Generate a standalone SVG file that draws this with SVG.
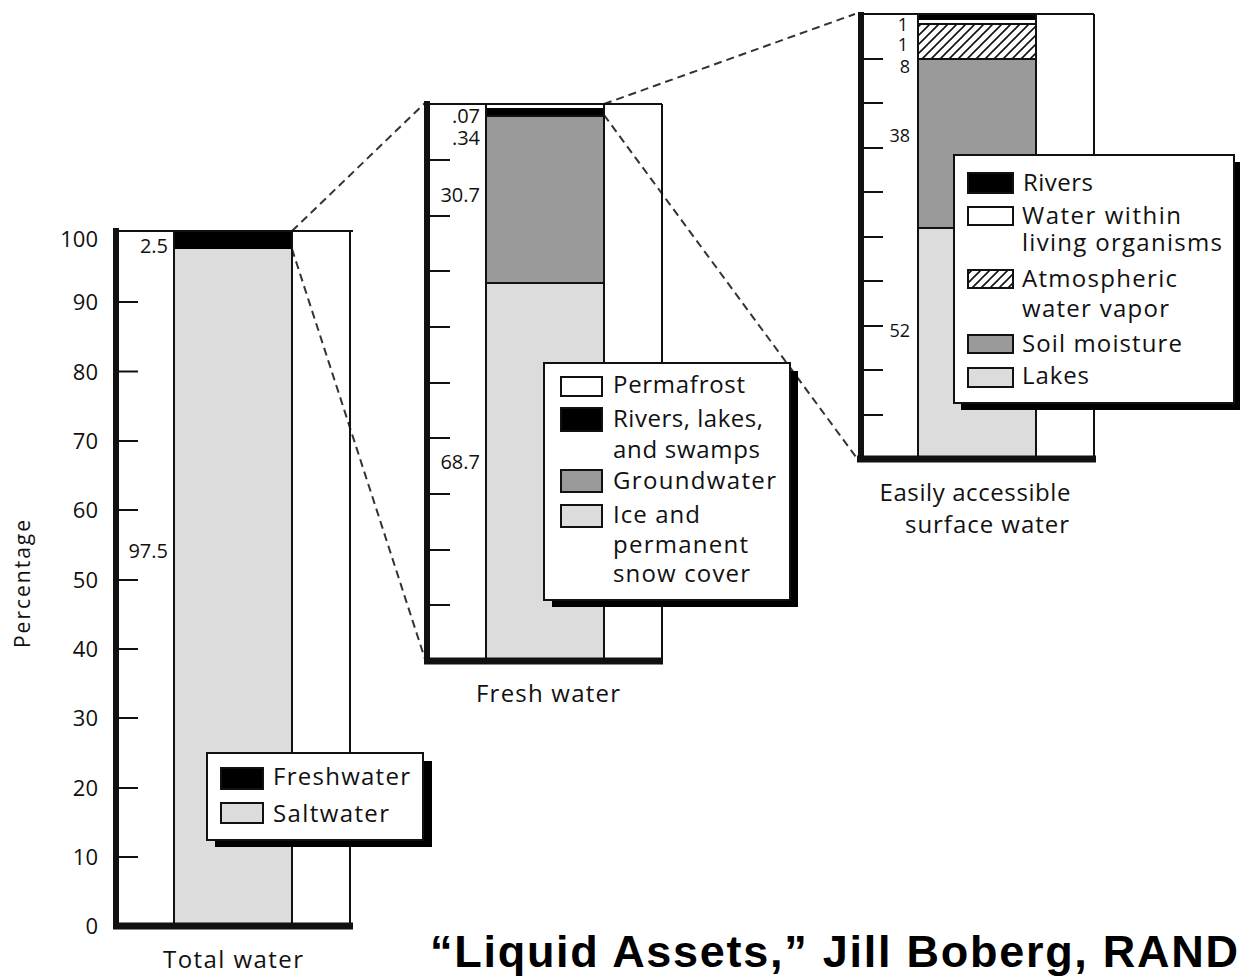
<svg xmlns="http://www.w3.org/2000/svg" width="1246" height="977" viewBox="0 0 1246 977">
<style>
text{font-family:"Open Sans","DejaVu Sans",sans-serif;fill:#111}
.ax{font-size:22px;text-anchor:end}
.val{font-size:20px;text-anchor:end}
.sm{font-size:18px}
.lg{font-size:24px}
.ttl{font-size:24px;text-anchor:middle}
.thin{fill:none;stroke:#111;stroke-width:2}
.thick{stroke:#111;stroke-width:6}
.thickb{stroke:#111;stroke-width:7}
.tick{stroke:#111;stroke-width:2}
.sw{stroke:#111;stroke-width:2}
.dash{fill:none;stroke:#333;stroke-width:2;stroke-dasharray:8 5}
.cite{font-family:"Liberation Sans",Arial,sans-serif;font-weight:bold;font-size:45px;fill:#000}
</style>
<defs>
<pattern id="hatch" patternUnits="userSpaceOnUse" width="9" height="9">
<path d="M-2,2 L2,-2 M0,9 L9,0 M7,11 L11,7" stroke="#111" stroke-width="1.6"/>
</pattern>
</defs>
<rect width="1246" height="977" fill="#fff"/>

<g id="connectors">
<line class="dash" x1="292" y1="231" x2="425" y2="103"/>
<line class="dash" x1="292" y1="249" x2="425" y2="659"/>
<line class="dash" x1="604" y1="104" x2="855" y2="14"/>
<line class="dash" x1="604" y1="115" x2="856" y2="457"/>
</g>

<g id="chart-total">
<rect x="174" y="231" width="118" height="18" fill="#000"/>
<rect x="174" y="249" width="118" height="677" fill="#dcdcdc"/>
<line class="thin" x1="116" y1="231" x2="353" y2="231"/>
<line class="thin" x1="174" y1="231" x2="174" y2="926"/>
<line class="thin" x1="292" y1="231" x2="292" y2="926"/>
<line class="thin" x1="350" y1="231" x2="350" y2="926"/>
<line class="thick" x1="116" y1="228" x2="116" y2="929"/>
<line class="thickb" x1="113" y1="926" x2="353" y2="926"/>
<g class="tick">
<line x1="116" y1="302" x2="138" y2="302"/>
<line x1="116" y1="371.5" x2="138" y2="371.5"/>
<line x1="116" y1="441" x2="138" y2="441"/>
<line x1="116" y1="510" x2="138" y2="510"/>
<line x1="116" y1="580" x2="138" y2="580"/>
<line x1="116" y1="649" x2="138" y2="649"/>
<line x1="116" y1="718" x2="138" y2="718"/>
<line x1="116" y1="788" x2="138" y2="788"/>
<line x1="116" y1="857" x2="138" y2="857"/>
</g>
<text class="ax" x="98" y="247">100</text>
<text class="ax" x="98" y="310">90</text>
<text class="ax" x="98" y="380">80</text>
<text class="ax" x="98" y="449">70</text>
<text class="ax" x="98" y="518">60</text>
<text class="ax" x="98" y="588">50</text>
<text class="ax" x="98" y="657">40</text>
<text class="ax" x="98" y="726">30</text>
<text class="ax" x="98" y="796">20</text>
<text class="ax" x="98" y="865">10</text>
<text class="ax" x="98" y="934">0</text>
<text class="val" x="168" y="253">2.5</text>
<text class="val" x="168" y="558">97.5</text>
<text class="ttl" x="0" y="0" transform="translate(30,584) rotate(-90)" style="font-size:21px" textLength="128">Percentage</text>
<text class="ttl" x="233" y="968" textLength="140">Total water</text>
</g>

<g id="legend-total">
<rect x="215" y="761" width="217" height="86" fill="#000"/>
<rect x="207" y="753" width="216" height="87" fill="#fff" class="sw"/>
<rect x="221" y="768" width="42" height="21" fill="#000" class="sw"/>
<rect x="221" y="803" width="42" height="20" fill="#dcdcdc" class="sw"/>
<text class="lg" x="273" y="785" textLength="137">Freshwater</text>
<text class="lg" x="273" y="822" textLength="116">Saltwater</text>
</g>

<g id="chart-fresh">
<rect x="486" y="108" width="118" height="8" fill="#000"/>
<rect x="486" y="116" width="118" height="167" fill="#9a9a9a"/>
<rect x="486" y="283" width="118" height="378" fill="#dcdcdc"/>
<line class="thin" x1="486" y1="116" x2="604" y2="116"/>
<line class="thin" x1="486" y1="283" x2="604" y2="283"/>
<line class="thin" x1="427" y1="104" x2="662" y2="104"/>
<line class="thin" x1="486" y1="104" x2="486" y2="661"/>
<line class="thin" x1="604" y1="104" x2="604" y2="661"/>
<line class="thin" x1="662" y1="104" x2="662" y2="661"/>
<line class="thick" x1="427" y1="101" x2="427" y2="664"/>
<line class="thickb" x1="424" y1="661" x2="663" y2="661"/>
<g class="tick">
<line x1="427" y1="160" x2="450" y2="160"/>
<line x1="427" y1="216" x2="450" y2="216"/>
<line x1="427" y1="271" x2="450" y2="271"/>
<line x1="427" y1="327" x2="450" y2="327"/>
<line x1="427" y1="383" x2="450" y2="383"/>
<line x1="427" y1="438" x2="450" y2="438"/>
<line x1="427" y1="494" x2="450" y2="494"/>
<line x1="427" y1="550" x2="450" y2="550"/>
<line x1="427" y1="605" x2="450" y2="605"/>
</g>
<text class="val" x="480" y="123">.07</text>
<text class="val" x="480" y="145">.34</text>
<text class="val" x="480" y="202">30.7</text>
<text class="val" x="480" y="469">68.7</text>
<text class="ttl" x="548" y="702" textLength="144">Fresh water</text>
</g>

<g id="legend-fresh">
<rect x="552" y="371" width="246" height="236" fill="#000"/>
<rect x="544" y="363" width="246" height="237" fill="#fff" class="sw"/>
<rect x="561" y="377" width="41" height="19" fill="#fff" class="sw"/>
<rect x="561" y="408" width="41" height="23" fill="#000" class="sw"/>
<rect x="561" y="470" width="41" height="22" fill="#9a9a9a" class="sw"/>
<rect x="561" y="505" width="41" height="22" fill="#dcdcdc" class="sw"/>
<text class="lg" x="613" y="393" textLength="132">Permafrost</text>
<text class="lg" x="613" y="427" textLength="150">Rivers, lakes,</text>
<text class="lg" x="613" y="458" textLength="147">and swamps</text>
<text class="lg" x="613" y="489" textLength="163">Groundwater</text>
<text class="lg" x="613" y="523" textLength="87">Ice and</text>
<text class="lg" x="613" y="553" textLength="135">permanent</text>
<text class="lg" x="613" y="582" textLength="137">snow cover</text>
</g>

<g id="chart-surface">
<rect x="918" y="14" width="118" height="6" fill="#000"/>
<rect x="918" y="24" width="118" height="35" fill="url(#hatch)"/>
<rect x="918" y="59" width="118" height="169" fill="#9a9a9a"/>
<rect x="918" y="228" width="118" height="231" fill="#dcdcdc"/>
<line class="thin" x1="918" y1="24" x2="1036" y2="24"/>
<line class="thin" x1="918" y1="59" x2="1036" y2="59"/>
<line class="thin" x1="918" y1="228" x2="1036" y2="228"/>
<line class="thin" x1="861" y1="14" x2="1094" y2="14"/>
<line class="thin" x1="918" y1="14" x2="918" y2="459"/>
<line class="thin" x1="1036" y1="14" x2="1036" y2="459"/>
<line class="thin" x1="1094" y1="14" x2="1094" y2="459"/>
<line class="thick" x1="861" y1="12" x2="861" y2="462"/>
<line class="thickb" x1="857" y1="459" x2="1096" y2="459"/>
<g class="tick">
<line x1="861" y1="59" x2="883" y2="59"/>
<line x1="861" y1="103" x2="883" y2="103"/>
<line x1="861" y1="148" x2="883" y2="148"/>
<line x1="861" y1="192" x2="883" y2="192"/>
<line x1="861" y1="237" x2="883" y2="237"/>
<line x1="861" y1="281" x2="883" y2="281"/>
<line x1="861" y1="326" x2="883" y2="326"/>
<line x1="861" y1="370" x2="883" y2="370"/>
<line x1="861" y1="415" x2="883" y2="415"/>
</g>
<text class="val sm" x="908" y="31">1</text>
<text class="val sm" x="908" y="51">1</text>
<text class="val sm" x="910" y="73">8</text>
<text class="val sm" x="910" y="142">38</text>
<text class="val sm" x="910" y="337">52</text>
<text class="ttl" x="975" y="501" textLength="191">Easily accessible</text>
<text class="ttl" x="987" y="533" textLength="164">surface water</text>
</g>

<g id="legend-surface">
<rect x="961" y="162" width="279" height="248" fill="#000"/>
<rect x="954" y="155" width="280" height="248" fill="#fff" class="sw"/>
<rect x="968" y="173" width="45" height="20" fill="#000" class="sw"/>
<rect x="968" y="207" width="45" height="18" fill="#fff" class="sw"/>
<rect x="968" y="270" width="45" height="18" fill="url(#hatch)" class="sw"/>
<rect x="968" y="335" width="45" height="18" fill="#9a9a9a" class="sw"/>
<rect x="968" y="368" width="45" height="19" fill="#dcdcdc" class="sw"/>
<text class="lg" x="1023" y="191" textLength="70">Rivers</text>
<text class="lg" x="1022" y="224" textLength="159">Water within</text>
<text class="lg" x="1022" y="251" textLength="200">living organisms</text>
<text class="lg" x="1022" y="287" textLength="155">Atmospheric</text>
<text class="lg" x="1022" y="317" textLength="147">water vapor</text>
<text class="lg" x="1022" y="352" textLength="160">Soil moisture</text>
<text class="lg" x="1022" y="384" textLength="67">Lakes</text>
</g>

<text class="cite" x="430" y="967" textLength="808">“Liquid Assets,” Jill Boberg, RAND</text>
</svg>
